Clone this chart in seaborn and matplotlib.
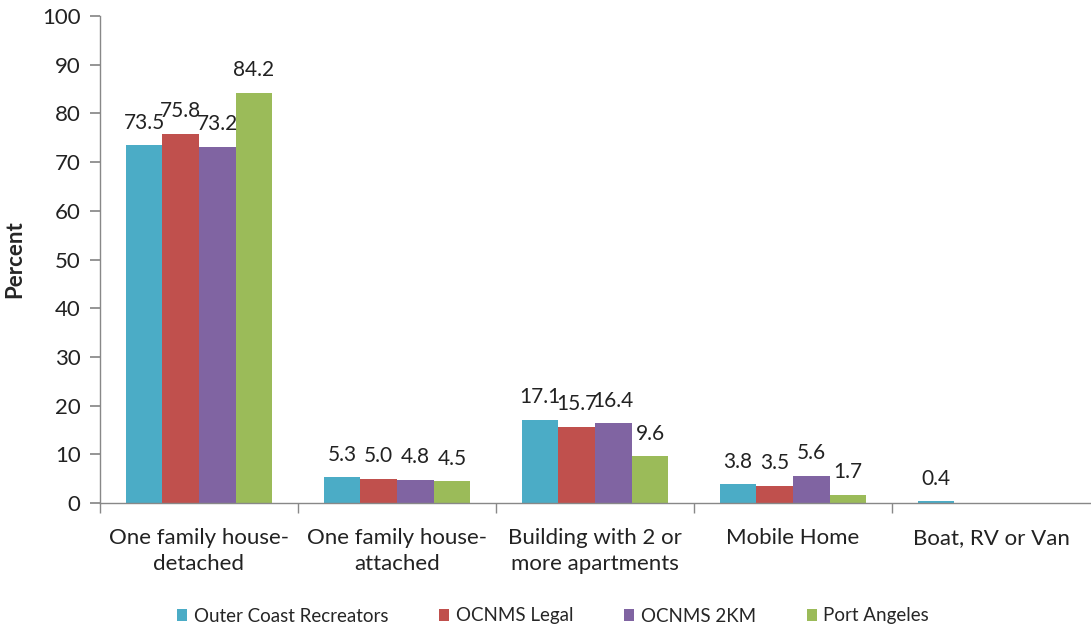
import numpy as np
import pandas as pd
import matplotlib
matplotlib.use("Agg")
import matplotlib.pyplot as plt
from matplotlib.patches import Patch
import seaborn as sns

categories = [
    "One family house-\ndetached",
    "One family house-\nattached",
    "Building with 2 or\nmore apartments",
    "Mobile Home",
    "Boat, RV or Van",
]
series = ["Outer Coast Recreators", "OCNMS Legal", "OCNMS 2KM", "Port Angeles"]
outer_coast = [73.5, 5.3, 17.1, 3.8, 0.4]
ocnms_legal = [75.8, 5.0, 15.7, 3.5, np.nan]
ocnms_2km = [73.2, 4.8, 16.4, 5.6, np.nan]
port_angeles = [84.2, 4.5, 9.6, 1.7, np.nan]
colors = ["#4BACC6", "#C0504D", "#8064A2", "#9BBB59"]

values = [outer_coast, ocnms_legal, ocnms_2km, port_angeles]
df = pd.DataFrame(
    [(c, s, v) for s, vals in zip(series, values) for c, v in zip(categories, vals)],
    columns=["category", "series", "value"],
)

sns.set_theme(style="white")
plt.rcParams["font.family"] = ["Lato", "DejaVu Sans"]

fig = plt.figure(figsize=(10.91, 6.30), dpi=100)
ax = fig.add_axes([100 / 1091, 1 - 503 / 630, 990 / 1091, 487 / 630])

sns.barplot(
    data=df, x="category", y="value", hue="series", order=categories,
    hue_order=series, palette=colors, width=0.74, saturation=1,
    edgecolor="none", ax=ax, legend=False,
)

for cont in ax.containers:
    labels = ["" if np.isnan(v) else f"{v:.1f}" for v in cont.datavalues]
    ax.bar_label(cont, labels=labels, padding=9, fontsize=15, color="#222222")

ax.set_ylim(0, 100)
ax.set_xlim(-0.5, 4.5)
ax.set_yticks(range(0, 101, 10))
ax.tick_params(axis="y", labelsize=16, length=7, color="#888888", left=True,
               direction="out", labelcolor="#222222", pad=7)
ax.set_xticks(range(len(categories)))
ax.set_xticklabels(categories, fontsize=16, color="#222222", linespacing=1.35)
ax.tick_params(axis="x", which="major", length=0, pad=18)
ax.set_xticks(np.arange(-0.5, 4.5, 1.0), minor=True)
ax.tick_params(axis="x", which="minor", length=7, color="#888888", bottom=True,
               direction="out")

ax.set_xlabel("")
ax.set_ylabel("Percent", fontsize=16, fontweight="bold", labelpad=12)

for side in ["top", "right"]:
    ax.spines[side].set_visible(False)
for side in ["left", "bottom"]:
    ax.spines[side].set_color("#888888")
    ax.spines[side].set_linewidth(1.0)

handles = [Patch(facecolor=c, edgecolor="none", label=s) for c, s in zip(colors, series)]
fig.legend(handles=handles, loc="center", bbox_to_anchor=(553 / 1091, 1 - 616 / 630),
           ncol=4, frameon=False, fontsize=13.5, handlelength=0.55, handleheight=0.55,
           handletextpad=0.35, columnspacing=2.7)

fig.savefig("out.png", dpi=100)
